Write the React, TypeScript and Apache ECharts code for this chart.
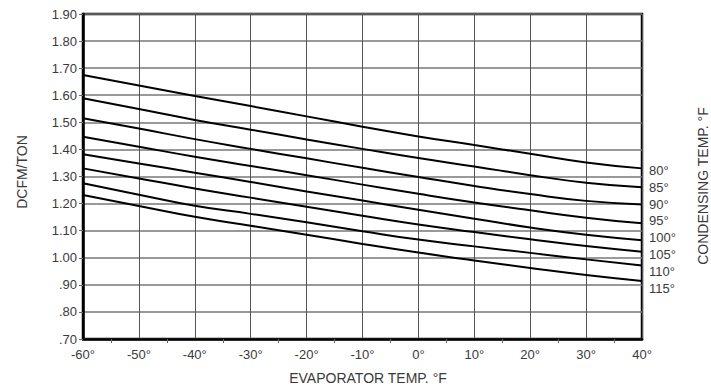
import React, { useEffect, useRef } from "react";
import * as echarts from "echarts";

const evapTemps = [-60, -50, -40, -30, -20, -10, 0, 10, 20, 30, 40];
const condLabels = ["80°", "85°", "90°", "95°", "100°", "105°", "110°", "115°"];
const cond80 = [1.675, 1.636, 1.597, 1.56, 1.522, 1.484, 1.448, 1.416, 1.384, 1.352, 1.33];
const cond85 = [1.589, 1.549, 1.509, 1.473, 1.437, 1.402, 1.368, 1.337, 1.305, 1.277, 1.26];
const cond90 = [1.515, 1.477, 1.438, 1.402, 1.367, 1.332, 1.298, 1.265, 1.235, 1.21, 1.197];
const cond95 = [1.447, 1.41, 1.373, 1.339, 1.305, 1.27, 1.236, 1.204, 1.175, 1.148, 1.127];
const cond100 = [1.382, 1.348, 1.314, 1.28, 1.245, 1.211, 1.177, 1.144, 1.112, 1.085, 1.065];
const cond105 = [1.33, 1.293, 1.256, 1.222, 1.188, 1.155, 1.123, 1.095, 1.068, 1.043, 1.022];
const cond110 = [1.275, 1.233, 1.192, 1.162, 1.131, 1.098, 1.067, 1.042, 1.018, 0.994, 0.971];
const cond115 = [1.232, 1.191, 1.151, 1.118, 1.085, 1.051, 1.019, 0.99, 0.962, 0.936, 0.914];
const allSeries = [cond80, cond85, cond90, cond95, cond100, cond105, cond110, cond115];

const FONT = "Liberation Sans";
const TXT = "#3a3a3a";

export default function App() {
  const ref = useRef<HTMLDivElement>(null);
  useEffect(() => {
    if (!ref.current) return;
    const chart = echarts.init(ref.current, null, { renderer: "svg" });
    const gridLeft = 83, gridRight = 69, gridTop = 14, gridBottom = 49;
    const option: any = {
      animation: false,
      backgroundColor: "#fff",
      grid: {
        left: gridLeft, right: gridRight, top: gridTop, bottom: gridBottom,
        show: true, borderColor: "#000", borderWidth: 2.5, backgroundColor: "transparent",
      },
      xAxis: {
        type: "value", min: -60, max: 40, interval: 10,
        axisLine: { show: true, onZero: false, lineStyle: { color: "#000", width: 2.5 } },
        axisTick: { show: false },
        minorTick: { show: true, splitNumber: 2, length: 4, lineStyle: { color: "#666" } },
        splitLine: { show: true, lineStyle: { color: "#555", width: 1 } },
        axisLabel: {
          formatter: (v: number) => `${v}°`, fontFamily: FONT, fontSize: 13, color: TXT, margin: 9,
        },
      },
      yAxis: {
        type: "value", min: 0.7, max: 1.9, interval: 0.1,
        axisLine: { show: true, onZero: false, lineStyle: { color: "#000", width: 2.5 } },
        axisTick: { show: true, length: 4, lineStyle: { color: "#666" } },
        splitLine: { show: true, lineStyle: { color: "#777", width: 1.6 } },
        axisLabel: {
          formatter: (v: number) => {
            const s = v.toFixed(2);
            return v < 1 ? s.slice(1) : s;
          },
          fontFamily: FONT, fontSize: 13, color: TXT, margin: 6,
        },
      },
      series: allSeries.map((vals, i) => ({
        type: "line",
        name: condLabels[i],
        data: evapTemps.map((x, j) => [x, vals[j]]),
        smooth: 0.5,
        symbol: "none",
        lineStyle: { color: "#000", width: 2 },
        z: 5,
      })),
      graphic: [
        ...condLabels.map((t, i) => ({
          type: "text", left: 649, top: 164 + i * 16.8,
          style: { text: t, fontFamily: FONT, fontSize: 13, fill: TXT },
        })),
        {
          type: "text", x: 22, y: 172, rotation: Math.PI / 2,
          style: { text: "DCFM/TON", fontFamily: FONT, fontSize: 14, fill: TXT, align: "center", verticalAlign: "middle" },
        },
        {
          type: "text", x: 703, y: 186, rotation: Math.PI / 2,
          style: { text: "CONDENSING TEMP. °F", fontFamily: FONT, fontSize: 14, fill: TXT, align: "center", verticalAlign: "middle" },
        },
        {
          type: "text", x: 368, y: 378,
          style: { text: "EVAPORATOR TEMP. °F", fontFamily: FONT, fontSize: 14, fill: TXT, align: "center", verticalAlign: "middle" },
        },
      ],
    };
    chart.setOption(option);
    return () => chart.dispose();
  }, []);
  return (
    <div
      ref={ref}
      style={{ position: "absolute", left: 0, top: 0, width: 711, height: 388 }}
    />
  );
}
